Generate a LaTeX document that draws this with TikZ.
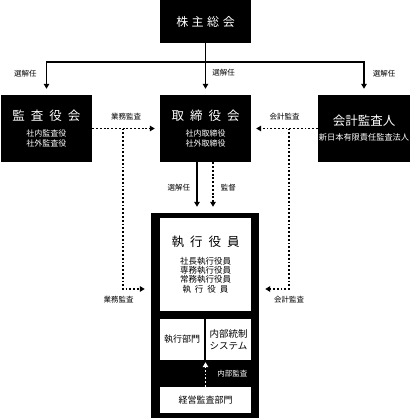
\documentclass[tikz,border=0pt]{standalone}
\usepackage{fontspec}
\setmainfont{Noto Sans CJK JP}
\usetikzlibrary{arrows.meta,calc}
\newcommand{\ttl}[1]{{\fontsize{12.5}{15}\selectfont #1}}
\newcommand{\wsp}{\hspace{6pt}}

\begin{document}
\begin{tikzpicture}[x=1pt,y=-1pt,
    blk/.style={fill=black,text=white,inner sep=0pt,align=center},
    wht/.style={fill=white,inner sep=0pt,align=center},
    sub/.style={font=\fontsize{8}{10}\selectfont},
    lbl/.style={font=\fontsize{7.5}{9}\selectfont,inner sep=1pt},
    arr/.style={line width=1.8pt,-{Triangle[length=5pt,width=5.5pt]}},
    dotarr/.style={line width=1.9pt,dash pattern=on 1.9pt off 1.9pt,-{Triangle[length=5pt,width=5.5pt]}}]
    \useasboundingbox (0,0) rectangle (415,418);
    %% boxes
    \node[blk,minimum width=91pt,minimum height=43pt,font=\fontsize{12}{14}\selectfont] (soukai) at (205.5,21.5)
    {株\hspace{3.5pt}主\hspace{3.5pt}総\hspace{3.5pt}会};
    \node[blk,sub,minimum width=91pt,minimum height=67pt] (kansa) at (46.5,128.5)
    {\ttl{監\wsp 査\wsp 役\wsp 会}\\[6pt] 社内監査役\\ 社外監査役};
    \node[blk,sub,minimum width=91pt,minimum height=67pt] (torishimari) at (205.5,128.5)
    {\ttl{取\wsp 締\wsp 役\wsp 会}\\[6pt] 社内取締役\\ 社外取締役};
    \node[blk,minimum width=92pt,minimum height=67pt,font=\fontsize{8.2}{10}\selectfont] (kaikei) at (364,128.5)
    {\ttl{会計監査人}\\[5pt] 新日本有限責任監査法人};
    %% executive block
    \node[blk,minimum width=108pt,minimum height=205pt] (exec) at (205,315.5) {};
    \node[wht,minimum width=91pt,minimum height=93pt,font=\fontsize{8.5}{9.3}\selectfont] (shikko) at (205.5,264.5)
    {\ttl{執\wsp 行\wsp 役\wsp 員}\\[8.5pt] 社長執行役員\\ 専務執行役員\\ 常務執行役員\\ 執\hspace{4pt}行\hspace{4pt}役\hspace{4pt}員};
    \node[wht,minimum width=44pt,minimum height=41pt,font=\fontsize{9}{11}\selectfont] (bumon) at (182,339.5) {執行部門};
    \node[wht,minimum width=45pt,minimum height=41pt,font=\fontsize{9.5}{11.5}\selectfont] (naibu) at (228.5,339.5) {内部統制\\システム};
    \node[wht,minimum width=91pt,minimum height=26pt,font=\fontsize{9}{11}\selectfont] (keiei) at (205.5,400) {経営監査部門};

    %% shareholders
    \coordinate (bus) at (0,62);
    \draw[arr,shorten >=6pt] (soukai.south) -- (torishimari.north)
    node[lbl,pos=0.58,right=5pt] (sen2) {選解任};
    \draw[arr,shorten >=6pt] (soukai.south |- bus) -| (kansa.north)
    node[lbl,pos=0.67,left=8pt] (sen1) {選解任};
    \draw[arr,shorten >=6pt] (soukai.south |- bus) -| (kaikei.north)
    node[lbl,pos=0.67,right=7pt] (sen3) {選解任};

    %% audits
    \coordinate (kv) at ($(kansa.east)!0.45!(torishimari.west)$);
    \coordinate (av) at ($(kaikei.west)!0.43!(torishimari.east)$);
    \coordinate (lvl) at (0,289);
    \draw[dotarr,shorten >=5pt] (kansa.east) -- (torishimari.west)
    node[lbl,midway,above=6pt] (gyomu1) {業務監査};
    \draw[dotarr,shorten >=6pt] (kv) |- (exec.west |- lvl)
    node[lbl,pos=0.5,below=5pt,xshift=-4pt] (gyomu2) {業務監査};
    \draw[dotarr,shorten >=5pt] (kaikei.west) -- (torishimari.east)
    node[lbl,midway,above=6pt] (kaikei1) {会計監査};
    \draw[dotarr,shorten >=6pt] (av) |- (exec.east |- lvl)
    node[lbl,pos=0.5,below=5pt] (kaikei2) {会計監査};

    %% board to executives
    \coordinate (b1) at ($(torishimari.south)+(-8.5,0)$);
    \coordinate (b2) at ($(torishimari.south)+(7.5,0)$);
    \draw[arr,shorten >=6pt] (b1) -- (b1 |- exec.north)
    node[lbl,midway,left=5pt] (sen4) {選解任};
    \draw[dotarr,shorten >=6pt] (b2) -- (b2 |- exec.north)
    node[lbl,midway,right=6pt] (kantoku) {監督};

    %% internal audit
    \draw[dotarr,white,shorten >=2pt] (keiei.north) -- (keiei.north |- bumon.south)
    node[lbl,midway,right=10pt] (naibukansa) {内部監査};
\end{tikzpicture}
\end{document}
